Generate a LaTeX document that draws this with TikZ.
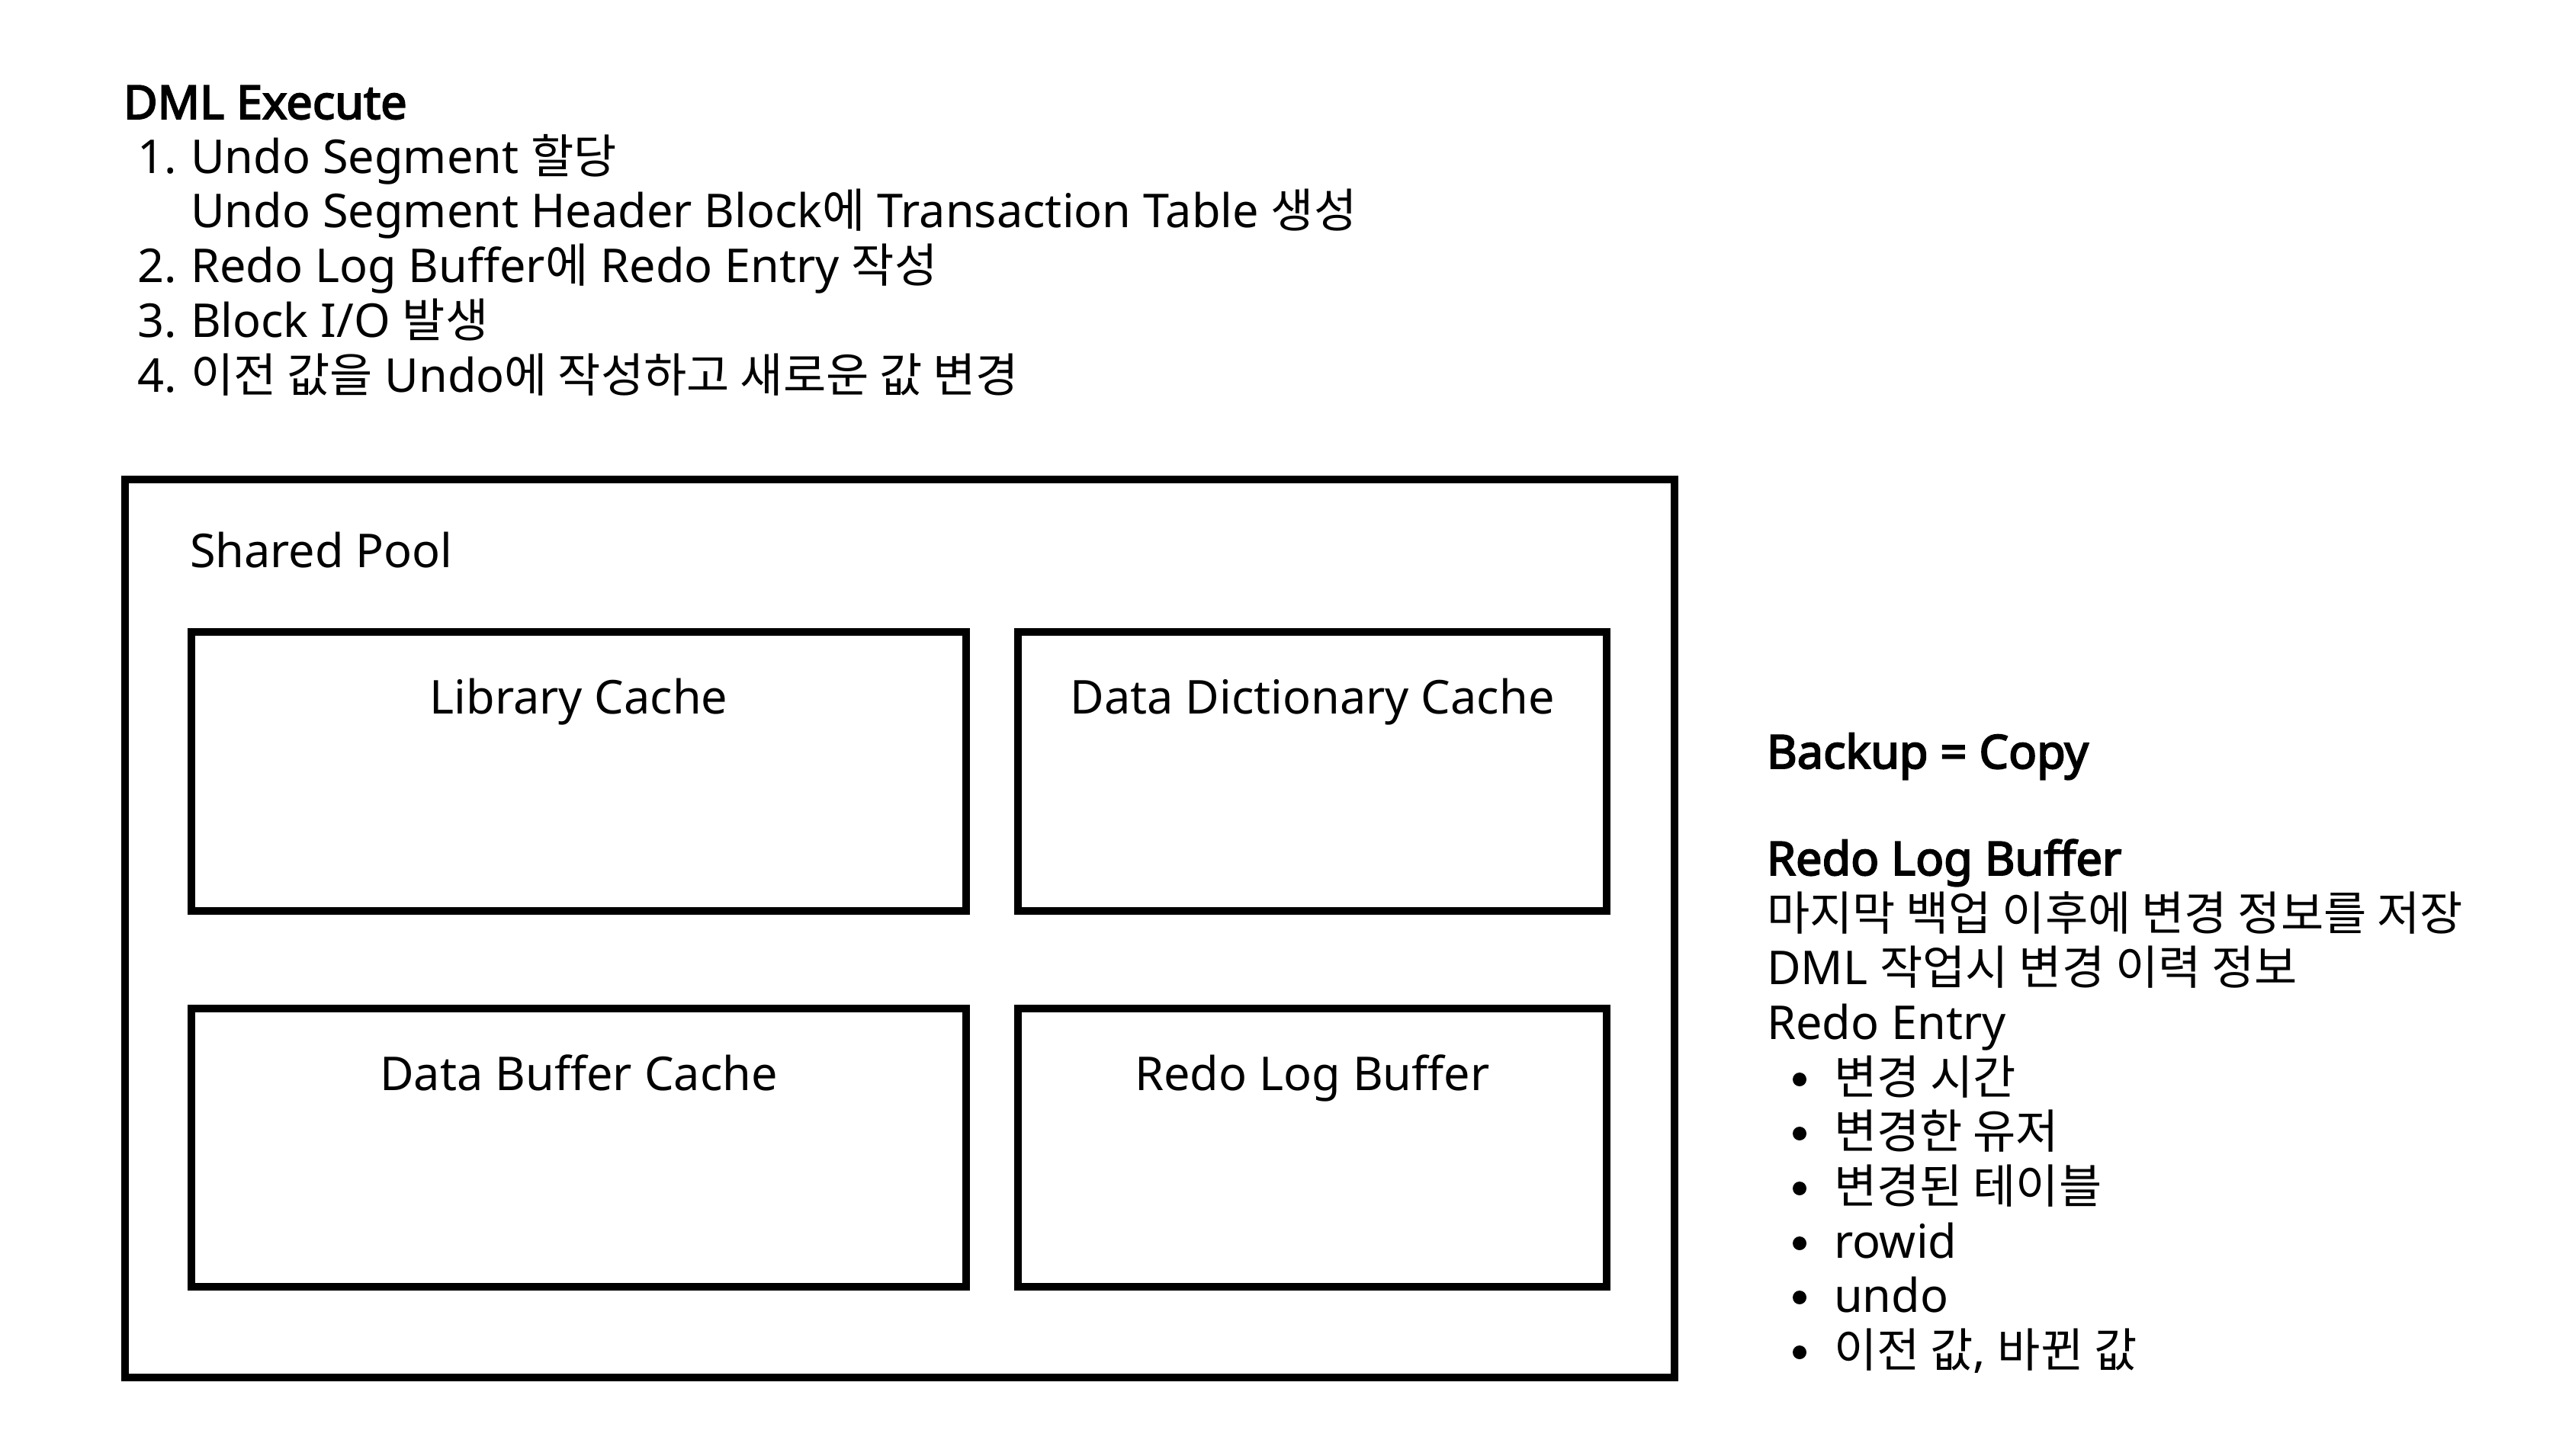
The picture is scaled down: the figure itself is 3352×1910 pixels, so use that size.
\documentclass[tikz,border=0pt]{standalone}
\usepackage{fontspec}
\setmainfont{Noto Sans}
\newfontfamily\kr{Noto Sans CJK KR}
\newfontfamily\hdfont{Noto Sans}[FakeBold=3.2]
\newcommand\K[1]{{\kr #1}}
\begin{document}
\begin{tikzpicture}[x=0.01cm,y=-0.01cm,
  every node/.style={inner sep=0pt, outer sep=0pt, font=\fontsize{17.4}{21}\selectfont},
  box/.style={draw=black, line width=0.1cm, fill=none},
  txt/.style={anchor=base west},
  lbl/.style={anchor=base},
  hd/.style={anchor=base west, font=\fontsize{17.4}{21}\selectfont\hdfont},
  dot/.style={circle, fill=black, minimum size=0.18cm}]
\useasboundingbox (0,0) rectangle (3352,1910);
\fill[white] (0,0) rectangle (3352,1910);

% left text block
\node[hd] (dml) at (162,156) {DML Execute};
\node[txt] (n1) at (180,228) {1.};
\node[txt] (t1) at (250,228) {Undo Segment \K{할당}};
\node[txt] (t1b) at (250,299) {Undo Segment Header Block\K{에} Transaction Table \K{생성}};
\node[txt] (n2) at (180,371) {2.};
\node[txt] (t2) at (250,371) {Redo Log Buffer\K{에} Redo Entry \K{작성}};
\node[txt] (n3) at (180,443) {3.};
\node[txt] (t3) at (250,443) {Block I/O \K{발생}};
\node[txt] (n4) at (180,515) {4.};
\node[txt] (t4) at (250,515) {\K{이전 값을} Undo\K{에 작성하고 새로운 값 변경}};

% shared pool boxes
\node[box, minimum width=20.30cm, minimum height=11.78cm] (pool) at (1180,1218) {};
\node[txt] (pooll) at (249,745) {Shared Pool};
\node[box, minimum width=10.16cm, minimum height=3.66cm] (lib) at (759,1012) {};
\node[box, minimum width=7.72cm, minimum height=3.66cm] (dict) at (1721,1012) {};
\node[box, minimum width=10.16cm, minimum height=3.65cm] (dbc) at (759,1505.5) {};
\node[box, minimum width=7.72cm, minimum height=3.65cm] (rlb) at (1721,1505.5) {};
\node[lbl] (libl) at (759,936) {Library Cache};
\node[lbl] (dictl) at (1721,936) {Data Dictionary Cache};
\node[lbl] (dbcl) at (759,1430) {Data Buffer Cache};
\node[lbl] (rlbl) at (1721,1430) {Redo Log Buffer};

% right text block
\node[hd] (bk) at (2317,1008) {Backup = Copy};
\node[hd] (rh) at (2317,1148) {Redo Log Buffer};
\node[txt] (r1) at (2317,1220) {\K{마지막 백업 이후에 변경 정보를 저장}};
\node[txt] (r2) at (2317,1291) {DML \K{작업시 변경 이력 정보}};
\node[txt] (r3) at (2317,1363) {Redo Entry};
\node[dot] (b1) at (2360,1416) {};
\node[txt] (e1) at (2405,1435) {\K{변경 시간}};
\node[dot] (b2) at (2360,1487) {};
\node[txt] (e2) at (2405,1506) {\K{변경한 유저}};
\node[dot] (b3) at (2360,1559) {};
\node[txt] (e3) at (2405,1578) {\K{변경된 테이블}};
\node[dot] (b4) at (2360,1631) {};
\node[txt] (e4) at (2405,1650) {rowid};
\node[dot] (b5) at (2360,1702) {};
\node[txt] (e5) at (2405,1721) {undo};
\node[dot] (b6) at (2360,1774) {};
\node[txt] (e6) at (2405,1793) {\K{이전 값}, \K{바뀐 값}};
\end{tikzpicture}
\end{document}
